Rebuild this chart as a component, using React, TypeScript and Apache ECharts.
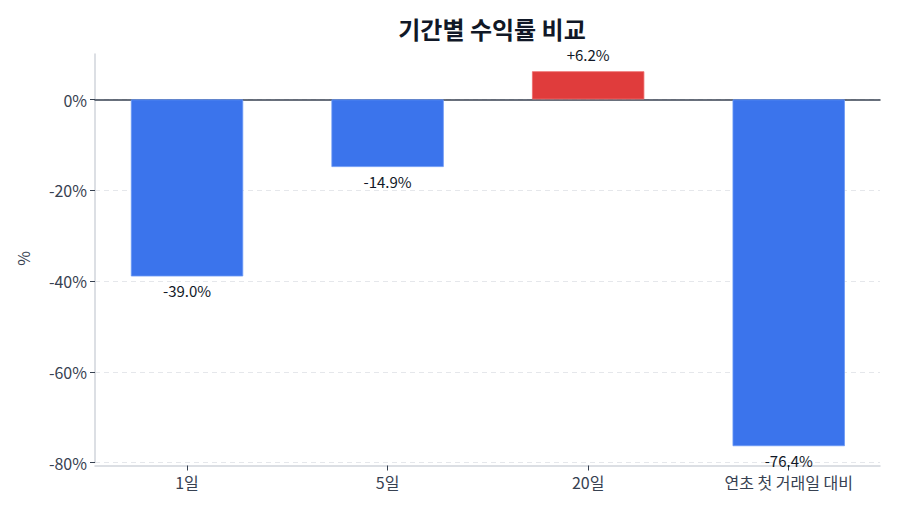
import * as echarts from 'echarts';
import { useEffect, useRef } from 'react';

const categories = ['1일', '5일', '20일', '연초 첫 거래일 대비'];
const returns = [-39.0, -14.9, 6.2, -76.4];
const yTicks = [-80, -60, -40, -20, 0];

const FONT = '"Noto Sans CJK KR", "Noto Sans", sans-serif';
const BLUE = '#3b74ec';
const RED = '#e03c3c';
const TEXT = '#374151';
const AXIS = '#d1d5db';

const App = () => {
  const chartRef = useRef<HTMLDivElement>(null);

  useEffect(() => {
    if (!chartRef.current) return;
    const chart = echarts.init(chartRef.current, null, { renderer: 'svg' });

    const option: echarts.EChartsOption = {
      animation: false,
      textStyle: { fontFamily: FONT },
      title: {
        text: '기간별 수익률 비교',
        left: 487,
        textAlign: 'center',
        top: 11,
        textStyle: { fontSize: 24, fontWeight: 'bold', color: '#111827', fontFamily: FONT },
      },
      // grid 0: bars and category labels (a bit wider than the frame)
      // grid 1: y ticks, gridlines and the zero line, -80..0
      // grid 2: the light frame lines and the axis name
      grid: [
        { left: 86.75, right: 11, top: 54, bottom: 51.5 },
        { left: 95, right: 20, top: 99.5, bottom: 51.5 },
        { left: 95, right: 20, top: 54, bottom: 51.5 },
      ],
      xAxis: [
        {
          type: 'category',
          gridIndex: 0,
          data: categories,
          offset: 3,
          axisLine: { show: false, onZero: false },
          axisTick: { show: true, alignWithLabel: true, length: 5, lineStyle: { color: TEXT } },
          axisLabel: { color: TEXT, fontSize: 16, margin: 8, fontFamily: FONT },
        },
        {
          type: 'category',
          gridIndex: 1,
          data: categories,
          position: 'top',
          axisLine: { show: true, onZero: false, lineStyle: { color: TEXT, width: 1.5 } },
          axisTick: { show: false },
          axisLabel: { show: false },
        },
        {
          type: 'category',
          gridIndex: 2,
          data: categories,
          offset: 3,
          axisLine: { show: true, onZero: false, lineStyle: { color: AXIS, width: 1.5 } },
          axisTick: { show: false },
          axisLabel: { show: false },
        },
      ],
      yAxis: [
        {
          type: 'value',
          gridIndex: 0,
          min: -80,
          max: 10,
          axisLine: { show: false },
          axisTick: { show: false },
          axisLabel: { show: false },
          splitLine: { show: false },
        },
        {
          type: 'value',
          gridIndex: 1,
          min: yTicks[0],
          max: yTicks[yTicks.length - 1],
          interval: 20,
          axisLine: { show: false },
          axisTick: { show: true, length: 5, lineStyle: { color: TEXT } },
          axisLabel: {
            color: TEXT,
            fontSize: 16,
            margin: 8,
            fontFamily: FONT,
            formatter: (v: number) => `${v}%`,
          },
          splitLine: { lineStyle: { color: '#e5e7eb', type: [5, 4] } },
        },
        {
          type: 'value',
          gridIndex: 2,
          min: -80,
          max: 10,
          name: '%',
          nameLocation: 'middle',
          nameGap: 64,
          nameTextStyle: { color: TEXT, fontSize: 16, fontFamily: FONT },
          axisLine: { show: true, lineStyle: { color: AXIS, width: 1.5 } },
          axisTick: { show: false },
          axisLabel: { show: false },
          splitLine: { show: false },
        },
      ],
      series: [
        {
          type: 'bar',
          xAxisIndex: 0,
          yAxisIndex: 0,
          z: 3,
          barWidth: '56%',
          data: returns.map((v) => ({
            value: v,
            itemStyle: {
              color: v >= 0 ? RED : BLUE,
              borderColor: v >= 0 ? '#ee6a6a' : '#6a98f5',
              borderWidth: 0.8,
            },
            label: {
              show: true,
              position: v >= 0 ? 'top' : 'bottom',
              distance: v >= 0 ? 9 : 7,
              color: '#111827',
              fontSize: 15,
              fontFamily: FONT,
              formatter: () => `${v >= 0 ? '+' : ''}${v.toFixed(1)}%`,
            },
          })),
        },
      ],
    };

    chart.setOption(option);
    return () => {
      chart.dispose();
    };
  }, []);

  return (
    <div
      ref={chartRef}
      style={{ position: 'absolute', left: 0, top: 0, width: 900, height: 514 }}
    />
  );
};

export default App;
